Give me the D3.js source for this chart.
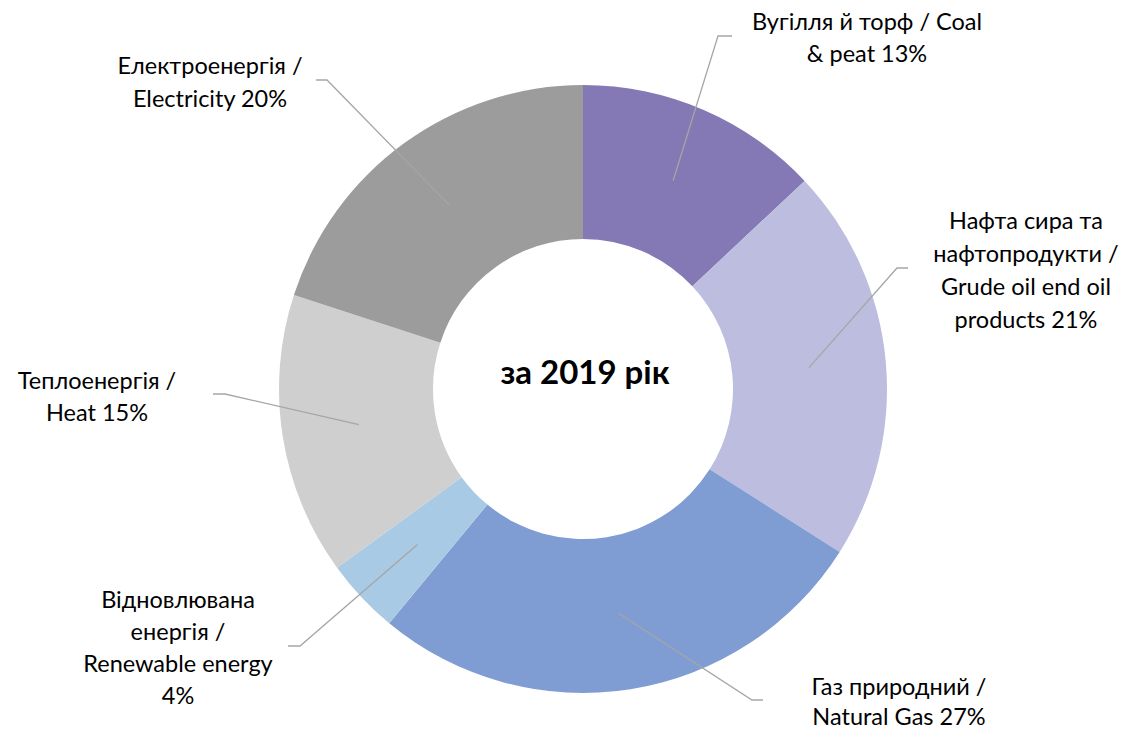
<!DOCTYPE html>
<html>
    <head>
        <meta charset="utf-8">
        <title>Energy 2019</title>
        <script src="https://cdnjs.cloudflare.com/ajax/libs/d3/7.8.5/d3.min.js"></script>
        <style>
            body { margin: 0; background: #fff; }
            text { font-family: Lato, "Open Sans", sans-serif; fill: #000; }
        </style>
    </head>
    <body>
        <script type="text/javascript">

            // Data
            var categories = [
                "Вугілля й торф / Coal & peat",
                "Нафта сира та нафтопродукти / Grude oil end oil products",
                "Газ природний / Natural Gas",
                "Відновлювана енергія / Renewable energy",
                "Теплоенергія / Heat",
                "Електроенергія / Electricity"
            ];
            var shares = [13, 21, 27, 4, 15, 20];
            var colors = ["#8479b4", "#bdbddf", "#7f9dd3", "#a9cae4", "#cfcfcf", "#9c9c9c"];

            // Label lines, as Excel wrapped them
            var labelLines = [
                ["Вугілля й торф / Coal", "& peat 13%"],
                ["Нафта сира та", "нафтопродукти /", "Grude oil end oil", "products 21%"],
                ["Газ природний /", "Natural Gas 27%"],
                ["Відновлювана", "енергія /", "Renewable energy", "4%"],
                ["Теплоенергія /", "Heat 15%"],
                ["Електроенергія /", "Electricity 20%"]
            ];

            // Where each label sits (elbow of the leader line + text block)
            var labelLayout = [
                {elbow: [718, 36],  end: [732, 36],  tx: 867,  ty: 30,  lh: 32},
                {elbow: [897, 268], end: [908, 268], tx: 1026, ty: 229, lh: 33},
                {elbow: [752, 700], end: [763, 700], tx: 899,  ty: 695, lh: 30},
                {elbow: [300, 646], end: [288, 646], tx: 178,  ty: 608, lh: 32},
                {elbow: [225, 394], end: [213, 394], tx: 97,   ty: 389, lh: 32},
                {elbow: [327, 80],  end: [316, 80],  tx: 210,  ty: 74,  lh: 33}
            ];

            var svg_width = 1133;
            var svg_height = 733;
            var cx = 583;
            var cy = 389;
            var outerR = 304;
            var innerR = 150;

            var svg = d3.select("body")
                        .append("svg")
                        .attr("width", svg_width)
                        .attr("height", svg_height);

            var g = svg.append("g")
                       .attr("transform", "translate(" + cx + "," + cy + ")");

            var pie = d3.pie().sort(null).value(function(d) { return d; });
            var arcs = pie(shares);

            var arc = d3.arc().innerRadius(innerR).outerRadius(outerR);
            var midArc = d3.arc().innerRadius(227).outerRadius(227);

            // Slices
            g.selectAll("path.slice")
             .data(arcs)
             .enter()
             .append("path")
             .attr("class", "slice")
             .attr("d", arc)
             .attr("fill", function(d, i) { return colors[i]; });

            // Leader lines
            svg.selectAll("polyline.leader")
               .data(arcs)
               .enter()
               .append("polyline")
               .attr("class", "leader")
               .attr("fill", "none")
               .attr("stroke", "#a6a6a6")
               .attr("stroke-width", 1.3)
               .attr("points", function(d, i) {
                   var c = midArc.centroid(d);
                   var L = labelLayout[i];
                   return [[cx + c[0], cy + c[1]], L.elbow, L.end].map(function(p) { return p.join(","); }).join(" ");
               });

            // Labels
            labelLines.forEach(function(lines, i) {
                var L = labelLayout[i];
                var t = svg.append("text")
                           .attr("text-anchor", "middle")
                           .attr("font-size", 23.5);
                lines.forEach(function(s, k) {
                    t.append("tspan")
                     .attr("x", L.tx)
                     .attr("y", L.ty + k * L.lh)
                     .text(s);
                });
            });

            // Centre title
            svg.append("text")
               .attr("x", 585)
               .attr("y", 384)
               .attr("text-anchor", "middle")
               .attr("font-size", 33)
               .attr("font-weight", "bold")
               .text("за 2019 рік");

        </script>
    </body>
</html>
